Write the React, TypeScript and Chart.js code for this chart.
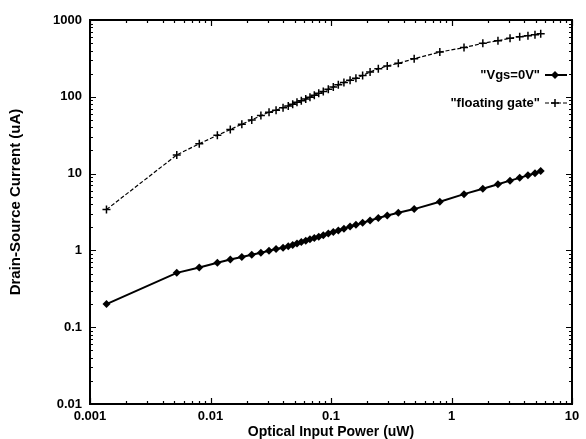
import React, { useEffect, useRef } from 'react';
import { Chart, registerables } from 'chart.js';

Chart.register(...registerables);

// ---- Data ----
const powerUW = [
  0.00137, 0.00525, 0.00807, 0.0114, 0.0146, 0.0182, 0.022, 0.0262, 0.0306, 0.035,
  0.04, 0.0442, 0.0481, 0.0522, 0.0567, 0.0617, 0.0669, 0.0727, 0.0791, 0.0863,
  0.095, 0.1045, 0.115, 0.128, 0.144, 0.161, 0.183, 0.211, 0.247, 0.293,
  0.362, 0.49, 0.8, 1.27, 1.82, 2.43, 3.06, 3.68, 4.31, 4.93, 5.5,
];

const vgs0Current = [
  0.2, 0.51, 0.6, 0.69, 0.76, 0.82, 0.88, 0.93, 0.99, 1.04,
  1.08, 1.13, 1.18, 1.23, 1.29, 1.34, 1.4, 1.45, 1.51, 1.58,
  1.66, 1.74, 1.82, 1.92, 2.04, 2.15, 2.29, 2.45, 2.64, 2.85,
  3.1, 3.45, 4.3, 5.4, 6.35, 7.25, 8.1, 8.8, 9.5, 10.1, 10.8,
];

const floatingGateCurrent = [
  3.4, 17.5, 24.5, 31.5, 37.5, 44, 50, 57, 63, 67,
  72, 76, 80, 85, 89, 93.5, 98.5, 104.6, 111, 117,
  125, 134, 143, 153, 164, 174, 190, 210, 232, 252,
  273, 313, 383, 437, 497, 538, 577, 607, 625, 644, 664,
];

const xTicks = [0.001, 0.01, 0.1, 1, 10];
const yTicks = [0.01, 0.1, 1, 10, 100, 1000];
const xTitle = 'Optical Input Power (uW)';
const yTitle = 'Drain-Source Current (uA)';
const seriesLabels = ['"Vgs=0V"', '"floating gate"'];

const FONT = "'Liberation Sans', Arial, Helvetica, sans-serif";

function drawDiamond(ctx: CanvasRenderingContext2D, x: number, y: number, r: number) {
  ctx.beginPath();
  ctx.moveTo(x, y - r);
  ctx.lineTo(x + r, y);
  ctx.lineTo(x, y + r);
  ctx.lineTo(x - r, y);
  ctx.closePath();
  ctx.fill();
}

function drawCross(ctx: CanvasRenderingContext2D, x: number, y: number, r: number) {
  ctx.beginPath();
  ctx.moveTo(x - r, y);
  ctx.lineTo(x + r, y);
  ctx.moveTo(x, y - r);
  ctx.lineTo(x, y + r);
  ctx.stroke();
}

const framePlugin = {
  id: 'frameTicks',
  afterDatasetsDraw(chart: any) {
    const { ctx, chartArea, scales } = chart;
    const { left, right, top, bottom } = chartArea;
    const xs = scales.x;
    const ys = scales.y;
    ctx.save();
    ctx.strokeStyle = '#000';
    ctx.lineWidth = 2;
    ctx.strokeRect(left, top, right - left, bottom - top);
    ctx.lineWidth = 1.2;
    ctx.beginPath();
    for (let e = -3; e <= 1; e++) {
      for (let m = 1; m <= 9; m++) {
        const v = m * Math.pow(10, e);
        if (v < 0.001 * 0.999 || v > 10 * 1.001) continue;
        const px = Math.round(xs.getPixelForValue(v)) + 0.5;
        const len = m === 1 ? 6 : 3;
        ctx.moveTo(px, bottom);
        ctx.lineTo(px, bottom - len);
        ctx.moveTo(px, top);
        ctx.lineTo(px, top + len);
      }
    }
    for (let e = -2; e <= 3; e++) {
      for (let m = 1; m <= 9; m++) {
        const v = m * Math.pow(10, e);
        if (v < 0.01 * 0.999 || v > 1000 * 1.001) continue;
        const py = Math.round(ys.getPixelForValue(v)) + 0.5;
        const len = m === 1 ? 6 : 3;
        ctx.moveTo(left, py);
        ctx.lineTo(left + len, py);
        ctx.moveTo(right, py);
        ctx.lineTo(right - len, py);
      }
    }
    ctx.stroke();

    // Y axis title
    ctx.save();
    ctx.translate(16, 202);
    ctx.rotate(-Math.PI / 2);
    ctx.fillStyle = '#000';
    ctx.font = `bold 15px ${FONT}`;
    ctx.textAlign = 'center';
    ctx.textBaseline = 'middle';
    ctx.fillText(yTitle, 0, 0);
    ctx.restore();

    // Legend
    ctx.fillStyle = '#000';
    ctx.font = `bold 13px ${FONT}`;
    ctx.textAlign = 'right';
    ctx.textBaseline = 'middle';
    const tx = right - 32;
    const rows = [top + 55, top + 83];
    ctx.fillText(seriesLabels[0], tx, rows[0]);
    ctx.fillText(seriesLabels[1], tx, rows[1]);
    // sample 1: solid with diamond
    ctx.lineWidth = 2;
    ctx.setLineDash([]);
    ctx.beginPath();
    ctx.moveTo(right - 27, rows[0]);
    ctx.lineTo(right - 5, rows[0]);
    ctx.stroke();
    drawDiamond(ctx, right - 17, rows[0], 4);
    // sample 2: dashed with cross
    ctx.lineWidth = 1.2;
    ctx.setLineDash([4, 2]);
    ctx.beginPath();
    ctx.moveTo(right - 27, rows[1]);
    ctx.lineTo(right - 5, rows[1]);
    ctx.stroke();
    ctx.setLineDash([]);
    ctx.lineWidth = 1.5;
    drawCross(ctx, right - 17, rows[1], 4);
    ctx.restore();
  },
};

export default function App() {
  const canvasRef = useRef<HTMLCanvasElement | null>(null);

  useEffect(() => {
    document.body.style.margin = '0';
    const canvas = canvasRef.current;
    if (!canvas) return;
    const chart = new Chart(canvas, {
      type: 'scatter',
      data: {
        datasets: [
          {
            label: seriesLabels[0],
            data: powerUW.map((x, i) => ({ x, y: vgs0Current[i] })),
            showLine: true,
            borderColor: '#000',
            backgroundColor: '#000',
            borderWidth: 2,
            pointStyle: 'rectRot',
            pointRadius: 4,
            pointBorderWidth: 0,
            pointBackgroundColor: '#000',
          },
          {
            label: seriesLabels[1],
            data: powerUW.map((x, i) => ({ x, y: floatingGateCurrent[i] })),
            showLine: true,
            borderColor: '#000',
            backgroundColor: '#000',
            borderWidth: 1.2,
            borderDash: [4, 2],
            pointStyle: 'cross',
            pointRadius: 4,
            pointBorderWidth: 1.5,
            pointBorderColor: '#000',
          },
        ],
      },
      options: {
        animation: false,
        responsive: true,
        maintainAspectRatio: false,
        layout: { padding: { left: 0, right: 14, top: 20, bottom: 0 } },
        plugins: {
          legend: { display: false },
          tooltip: { enabled: false },
        },
        scales: {
          x: {
            type: 'logarithmic',
            position: 'bottom',
            min: 0.001,
            max: 10,
            grid: { display: false, drawTicks: false },
            border: { display: false },
            afterBuildTicks: (scale: any) => {
              scale.ticks = xTicks.map((v) => ({ value: v }));
            },
            afterFit: (scale: any) => {
              scale.height = 35;
            },
            ticks: {
              color: '#000',
              font: { family: FONT, size: 13, weight: 'bold' },
              padding: 5,
              maxRotation: 0,
              autoSkip: false,
              callback: (v: any) => String(v),
            },
            title: {
              display: true,
              text: xTitle,
              color: '#000',
              font: { family: FONT, size: 14, weight: 'bold', lineHeight: 1 },
              padding: { top: 0, bottom: 0 },
            },
          },
          y: {
            type: 'logarithmic',
            position: 'left',
            min: 0.01,
            max: 1000,
            grid: { display: false, drawTicks: false },
            border: { display: false },
            afterBuildTicks: (scale: any) => {
              scale.ticks = yTicks.map((v) => ({ value: v }));
            },
            afterFit: (scale: any) => {
              scale.width = 90;
            },
            ticks: {
              color: '#000',
              font: { family: FONT, size: 13, weight: 'bold' },
              padding: 8,
              autoSkip: false,
              callback: (v: any) => String(v),
            },
          },
        },
      },
      plugins: [framePlugin],
    });
    return () => chart.destroy();
  }, []);

  return (
    <div style={{ width: 586, height: 439, position: 'relative' }}>
      <canvas ref={canvasRef} />
    </div>
  );
}
